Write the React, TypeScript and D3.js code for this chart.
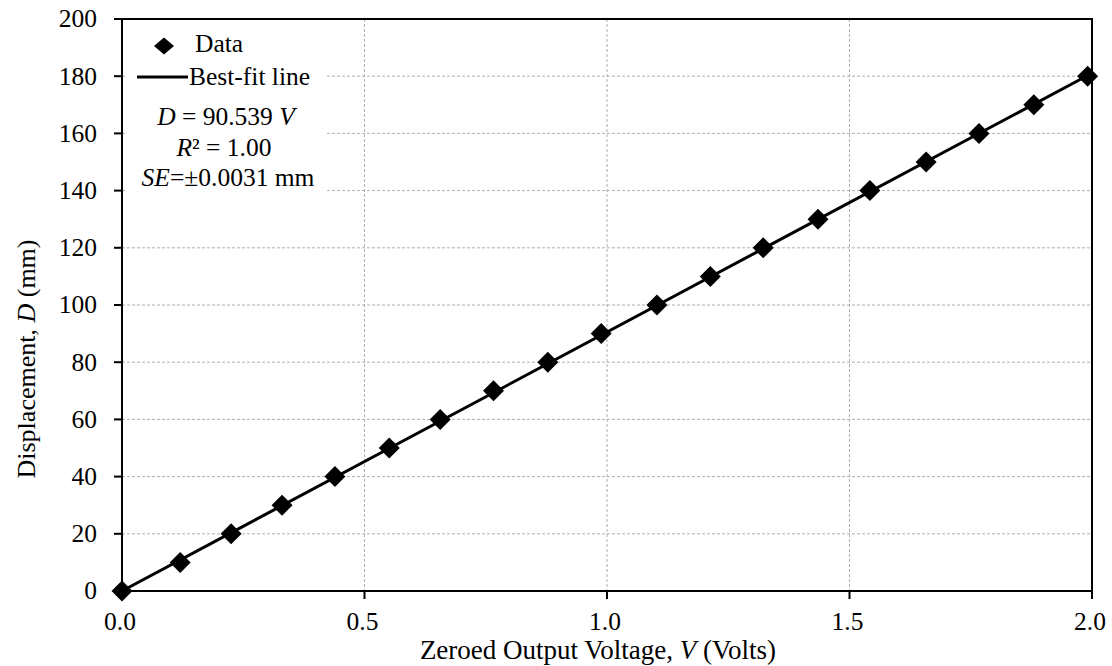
import React from "react";
import * as d3 from "d3";

const voltage = [0, 0.12, 0.225, 0.33, 0.439, 0.551, 0.656, 0.766, 0.878, 0.988, 1.103, 1.213, 1.322, 1.435, 1.542, 1.658, 1.767, 1.88, 1.991];
const displacement = [0, 10, 20, 30, 40, 50, 60, 70, 80, 90, 100, 110, 120, 130, 140, 150, 160, 170, 180];
const xTicks = [0, 0.5, 1.0, 1.5, 2.0];
const yTicks = [0, 20, 40, 60, 80, 100, 120, 140, 160, 180, 200];
const slope = 90.539;

const W = 1112, H = 666;
const m = { left: 122, right: 1092, top: 19, bottom: 591 };
const font = "'Liberation Serif', 'Times New Roman', Times, serif";
const fs = 25.5;

export default function App() {
  const x = d3.scaleLinear().domain([0, 2]).range([m.left, m.right]);
  const y = d3.scaleLinear().domain([0, 200]).range([m.bottom, m.top]);
  const vEnd = 180 / slope;
  const line = d3.line<number>().x((v) => x(v)).y((v) => y(slope * v));
  const diamond = (cx: number, cy: number, rx: number, ry: number) =>
    `M${cx},${cy - ry}L${cx + rx},${cy}L${cx},${cy + ry}L${cx - rx},${cy}Z`;
  return (
    <svg width={W} height={H} style={{ position: "absolute", left: 0, top: 0, fontFamily: font }} fontFamily={font}>
      <rect x={0} y={0} width={W} height={H} fill="#fff" />
      {/* grid */}
      {yTicks.filter((t) => t > 0 && t < 200).map((t) => (
        <line key={"gy" + t} x1={m.left} x2={m.right} y1={y(t)} y2={y(t)} stroke="#9a9a9a" strokeWidth={0.8} strokeDasharray="3,2" />
      ))}
      {xTicks.filter((t) => t > 0 && t < 2).map((t) => (
        <line key={"gx" + t} x1={x(t)} x2={x(t)} y1={m.top} y2={m.bottom} stroke="#9a9a9a" strokeWidth={0.8} strokeDasharray="3,2" />
      ))}
      {/* legend background */}
      <rect x={125} y={22} width={201} height={176} fill="#fff" />
      {/* frame */}
      <rect x={m.left} y={m.top} width={m.right - m.left} height={m.bottom - m.top} fill="none" stroke="#000" strokeWidth={2} />
      {/* ticks */}
      {yTicks.map((t) => (
        <g key={"yt" + t}>
          <line x1={m.left - 8} x2={m.left} y1={y(t)} y2={y(t)} stroke="#000" strokeWidth={2} />
          <text x={m.left - 25} y={y(t)} dy="0.33em" textAnchor="end" fontSize={fs}>{t}</text>
        </g>
      ))}
      {xTicks.map((t) => (
        <g key={"xt" + t}>
          <line x1={x(t)} x2={x(t)} y1={m.bottom} y2={m.bottom + 8} stroke="#000" strokeWidth={2} />
          <text x={x(t) - 2} y={m.bottom + 39} textAnchor="middle" fontSize={fs}>{t.toFixed(1)}</text>
        </g>
      ))}
      {/* fit line */}
      <path d={line([0, vEnd]) || ""} fill="none" stroke="#000" strokeWidth={3} />
      {/* points */}
      {voltage.map((v, i) => (
        <path key={"p" + i} d={diamond(x(v), y(displacement[i]), 10.5, 10.5)} fill="#000" />
      ))}
      {/* legend */}
      <path d={diamond(164, 46, 10, 8.5)} fill="#000" />
      <text x={195} y={52} fontSize={fs}>Data</text>
      <line x1={137} x2={188} y1={77} y2={77} stroke="#000" strokeWidth={3} />
      <text x={189} y={85} fontSize={fs}>Best-fit line</text>
      <text x={226} y={125} textAnchor="middle" fontSize={fs}>
        <tspan fontStyle="italic">D</tspan> = 90.539 <tspan fontStyle="italic">V</tspan>
      </text>
      <text x={224} y={156} textAnchor="middle" fontSize={fs}>
        <tspan fontStyle="italic">R</tspan>² = 1.00
      </text>
      <text x={228} y={186} textAnchor="middle" fontSize={fs}>
        <tspan fontStyle="italic">SE</tspan>=±0.0031 mm
      </text>
      {/* axis labels */}
      <text transform={`translate(35,359) rotate(-90)`} textAnchor="middle" fontSize={26}>
        Displacement, <tspan fontStyle="italic">D</tspan> (mm)
      </text>
      <text x={598} y={659} textAnchor="middle" fontSize={27}>
        Zeroed Output Voltage, <tspan fontStyle="italic">V</tspan> (Volts)
      </text>
    </svg>
  );
}
